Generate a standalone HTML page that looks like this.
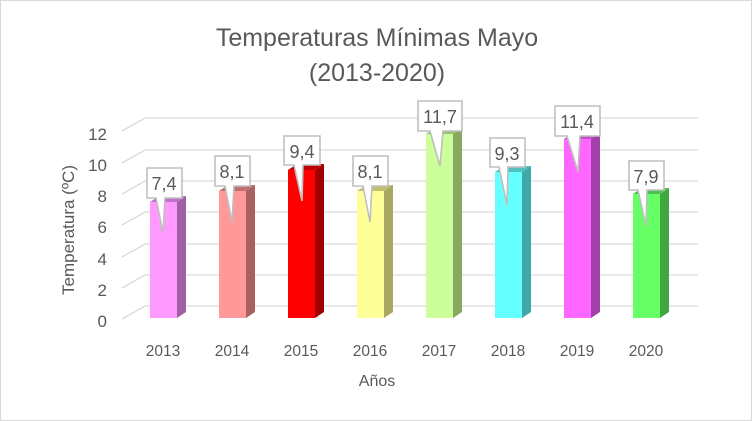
<!DOCTYPE html>
<html><head><meta charset="utf-8"><style>
html,body{margin:0;padding:0;background:#fff}
svg{display:block;font-family:"Liberation Sans",sans-serif}
</style></head><body>
<svg width="752" height="421" viewBox="0 0 752 421" xmlns="http://www.w3.org/2000/svg">
<rect x="0.5" y="0.5" width="751" height="420" fill="#fff" stroke="#d9d9d9"/>
<text x="377" y="46" font-size="25" fill="#595959" text-anchor="middle">Temperaturas  Mínimas Mayo</text>
<text x="377" y="81" font-size="25" fill="#595959" text-anchor="middle">(2013-2020)</text>
<g stroke="#d9d9d9" stroke-width="1.3" fill="none">
<path d="M122 319L145 306H698"/><path d="M122 288L145 275H698"/><path d="M122 257L145 244H698"/>
<path d="M122 225L145 212H698"/><path d="M122 194L145 181H698"/><path d="M122 163L145 150H698"/><path d="M122 131L145 118H698"/>
</g>
<g font-size="17" fill="#595959" text-anchor="end">
<text x="107" y="327">0</text><text x="107" y="296">2</text><text x="107" y="265">4</text><text x="107" y="233">6</text>
<text x="107" y="202">8</text><text x="107" y="171">10</text><text x="107" y="140">12</text>
</g>
<text transform="translate(74,230) rotate(-90)" font-size="17" fill="#595959" text-anchor="middle">Temperatura (ºC)</text>
<g font-size="15.5" fill="#595959" text-anchor="middle">
<text x="163" y="356">2013</text><text x="232" y="356">2014</text><text x="301" y="356">2015</text><text x="370" y="356">2016</text>
<text x="439" y="356">2017</text><text x="508" y="356">2018</text><text x="577" y="356">2019</text><text x="646" y="356">2020</text>
</g>
<text x="377" y="386" font-size="16" fill="#595959" text-anchor="middle">Años</text>
<g>
<rect x="150" y="202" width="27" height="116" fill="#ff99ff"/><path d="M177 202L186 196V312L177 318Z" fill="#a060a8"/><path d="M150 202L159 196H186L177 202Z" fill="#c070c8"/>
<rect x="219" y="191" width="27" height="127" fill="#ff9999"/><path d="M246 191L255 185V312L246 318Z" fill="#a86060"/><path d="M219 191L228 185H255L246 191Z" fill="#c07070"/>
<rect x="288" y="170" width="27" height="148" fill="#ff0000"/><path d="M315 170L324 164V312L315 318Z" fill="#a00000"/><path d="M288 170L297 164H324L315 170Z" fill="#c00000"/>
<rect x="357" y="191" width="27" height="127" fill="#ffff99"/><path d="M384 191L393 185V312L384 318Z" fill="#a8a860"/><path d="M357 191L366 185H393L384 191Z" fill="#c0c070"/>
<rect x="426" y="134" width="27" height="184" fill="#ccff99"/><path d="M453 134L462 128V312L453 318Z" fill="#88a860"/><path d="M426 134L435 128H462L453 134Z" fill="#99c070"/>
<rect x="495" y="172" width="27" height="146" fill="#66ffff"/><path d="M522 172L531 166V312L522 318Z" fill="#40a8a8"/><path d="M495 172L504 166H531L522 172Z" fill="#50c0c0"/>
<rect x="564" y="139" width="27" height="179" fill="#ff66ff"/><path d="M591 139L600 133V312L591 318Z" fill="#a040a8"/><path d="M564 139L573 133H600L591 139Z" fill="#c050c8"/>
<rect x="633" y="194" width="27" height="124" fill="#66ff66"/><path d="M660 194L669 188V312L660 318Z" fill="#40a840"/><path d="M633 194L642 188H669L660 194Z" fill="#50c050"/>
</g>
<g fill="#fff" stroke="#bfbfbf" stroke-width="1.6">
<path d="M147 168H182V198H165L163 233L156 198H147Z"/>
<path d="M215 156H250V186H234L232 222L225 186H215Z"/>
<path d="M284 136H320V165H303L302 201L294 165H284Z"/>
<path d="M353 156H388V186H372L370 222L363 186H353Z"/>
<path d="M418 101H462V131H443L440 166L430 131H418Z"/>
<path d="M490 138H525V167H508L507 205L499 167H490Z"/>
<path d="M555 106H600V136H580L578 172L567 136H555Z"/>
<path d="M629 161H664V190H647L646 226L638 190H629Z"/>
</g>
<g font-size="18" fill="#595959" text-anchor="middle">
<text x="164" y="190">7,4</text><text x="232" y="178">8,1</text><text x="302" y="158">9,4</text><text x="370" y="178">8,1</text>
<text x="440" y="123">11,7</text><text x="507" y="160">9,3</text><text x="577" y="128">11,4</text><text x="646" y="183">7,9</text>
</g>
</svg>
</body></html>
